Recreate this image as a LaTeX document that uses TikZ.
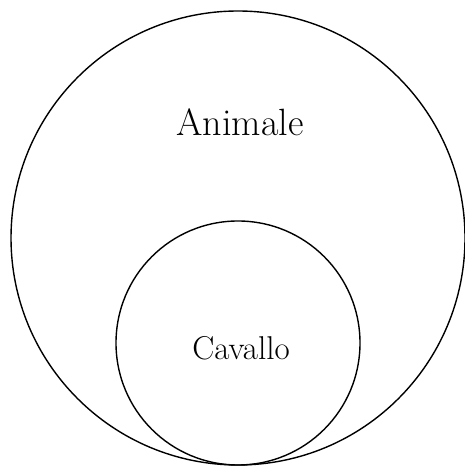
\documentclass[tikz,border=0pt]{standalone}
\usepackage{fontspec}
\usepackage{tikz}
\usetikzlibrary{positioning}

\tikzset{
  setbox/.style={draw, circle, line width=1.4pt, inner sep=0pt},
  setname/.style={inner sep=0pt},
}

\begin{document}
\begin{tikzpicture}[x=1pt, y=1pt]
    \useasboundingbox (0,0) rectangle (465,468);
    \node [setbox, minimum size=454pt] (animale) at (238,230) {};
    \node [setbox, minimum size=244pt] (cavallo) at (238,125) {};

    \node [setname, font=\fontsize{38}{40}\selectfont] (animaletext) at (240,346) {Animale};
    \node [setname, font=\fontsize{33}{35}\selectfont] (cavallotext) at (241,120) {Cavallo};
\end{tikzpicture}
\end{document}
